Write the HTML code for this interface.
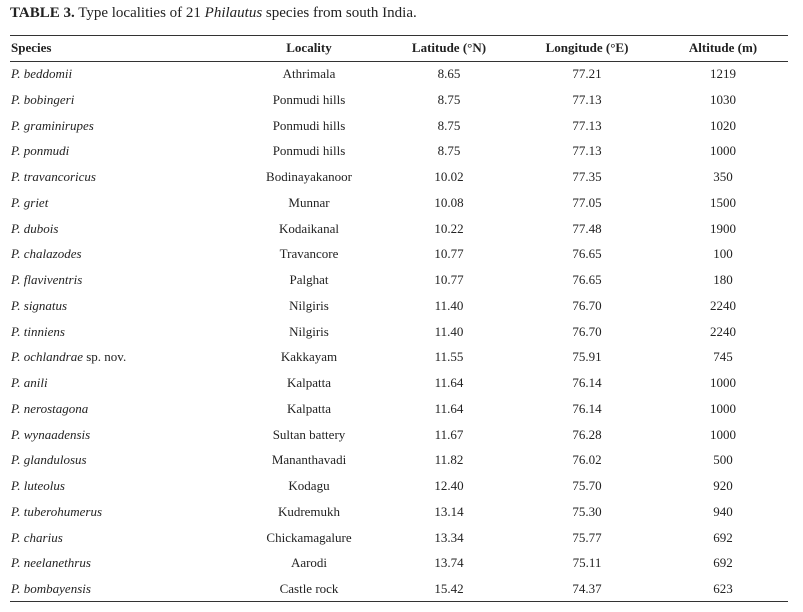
<!DOCTYPE html>
<html><head><meta charset="utf-8"><style>
body{margin:0;width:803px;height:612px;background:#fff;font-family:"Liberation Serif",serif;color:#222;position:relative;overflow:hidden}
.t{position:absolute;left:10px;top:5px;font-size:15px;white-space:nowrap}
.r{position:absolute;left:10px;width:778px;height:20px;font-size:13px;line-height:20px}
.r span{position:absolute;white-space:nowrap}
.c1{left:1px}
.c2{left:239px;width:120px;text-align:center}
.c3{left:389px;width:100px;text-align:center}
.c4{left:527px;width:100px;text-align:center}
.c5{left:663px;width:100px;text-align:center}
.h{font-weight:bold}
.line{position:absolute;left:10px;width:778px;height:1px;background:#333}
</style></head><body>
<div class="t"><b>TABLE 3.</b> Type localities of 21 <i>Philautus</i> species from south India.</div>
<div class="line" style="top:35px"></div>
<div class="line" style="top:61px"></div>
<div class="line" style="top:601px"></div>
<div class="r h" style="top:38px"><span class="c1">Species</span><span class="c2">Locality</span><span class="c3">Latitude (°N)</span><span class="c4">Longitude (°E)</span><span class="c5">Altitude (m)</span></div>
<div id="rows"></div>
<script>
var d=[["P. beddomii","","Athrimala","8.65","77.21","1219"],
["P. bobingeri","","Ponmudi hills","8.75","77.13","1030"],
["P. graminirupes","","Ponmudi hills","8.75","77.13","1020"],
["P. ponmudi","","Ponmudi hills","8.75","77.13","1000"],
["P. travancoricus","","Bodinayakanoor","10.02","77.35","350"],
["P. griet","","Munnar","10.08","77.05","1500"],
["P. dubois","","Kodaikanal","10.22","77.48","1900"],
["P. chalazodes","","Travancore","10.77","76.65","100"],
["P. flaviventris","","Palghat","10.77","76.65","180"],
["P. signatus","","Nilgiris","11.40","76.70","2240"],
["P. tinniens","","Nilgiris","11.40","76.70","2240"],
["P. ochlandrae"," sp. nov.","Kakkayam","11.55","75.91","745"],
["P. anili","","Kalpatta","11.64","76.14","1000"],
["P. nerostagona","","Kalpatta","11.64","76.14","1000"],
["P. wynaadensis","","Sultan battery","11.67","76.28","1000"],
["P. glandulosus","","Mananthavadi","11.82","76.02","500"],
["P. luteolus","","Kodagu","12.40","75.70","920"],
["P. tuberohumerus","","Kudremukh","13.14","75.30","940"],
["P. charius","","Chickamagalure","13.34","75.77","692"],
["P. neelanethrus","","Aarodi","13.74","75.11","692"],
["P. bombayensis","","Castle rock","15.42","74.37","623"]];
var h="";
d.forEach(function(r,i){var y=64+i*25.75;
h+='<div class="r" style="top:'+y+'px"><span class="c1"><i>'+r[0]+'</i>'+r[1]+'</span><span class="c2">'+r[2]+'</span><span class="c3">'+r[3]+'</span><span class="c4">'+r[4]+'</span><span class="c5">'+r[5]+'</span></div>';});
document.getElementById("rows").innerHTML=h;
</script>
</body></html>
